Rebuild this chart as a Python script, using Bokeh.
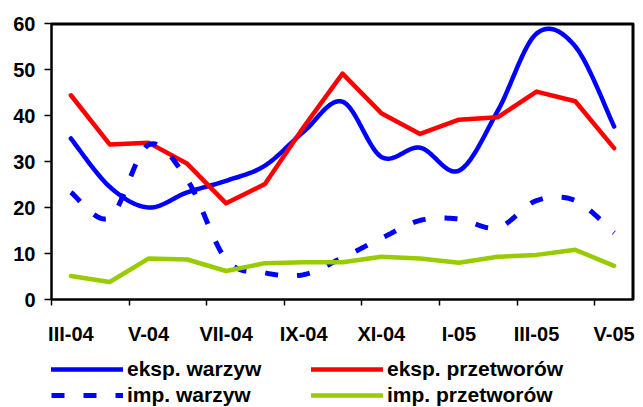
import numpy as np
from bokeh.plotting import figure
from bokeh.layouts import column
from bokeh.models import Range1d, FixedTicker, Legend, LegendItem, Span
from bokeh.embed import file_html
from bokeh.resources import INLINE

# ---- data ----
months = ["III-04", "IV-04", "V-04", "VI-04", "VII-04", "VIII-04", "IX-04", "X-04",
          "XI-04", "XII-04", "I-05", "II-05", "III-05", "IV-05", "V-05"]
eksp_warzyw = [35.0, 24.5, 20.0, 23.3, 25.8, 29.1, 36.5, 43.0, 31.0, 33.0, 28.0, 41.0, 57.8, 55.0, 37.6]
eksp_przetworow = [44.4, 33.7, 34.1, 29.5, 20.9, 25.1, 37.5, 49.1, 40.5, 36.0, 39.1, 39.6, 45.2, 43.1, 32.9]
imp_warzyw = [23.3, 17.8, 33.6, 26.0, 8.7, 5.8, 5.4, 9.1, 13.3, 17.2, 17.5, 15.6, 21.5, 21.5, 14.5]
imp_przetworow = [5.1, 3.8, 8.9, 8.7, 6.2, 7.9, 8.1, 8.1, 9.3, 8.9, 8.0, 9.3, 9.7, 10.8, 7.3]
series_labels = ["eksp. warzyw", "eksp. przetworów", "imp. warzyw", "imp. przetworów"]
y_ticks = [0, 10, 20, 30, 40, 50, 60]

xs = list(range(len(months)))
all_series = [eksp_warzyw, eksp_przetworow, imp_warzyw, imp_przetworow]


def smooth(x, y, n=24):
    """Catmull-Rom (Excel-style) smoothing of a polyline for rendering."""
    x = np.asarray(x, float)
    y = np.asarray(y, float)
    px = np.concatenate([[x[0]], x, [x[-1]]])
    py = np.concatenate([[y[0]], y, [y[-1]]])
    ox, oy = [], []
    t = np.linspace(0, 1, n, endpoint=False)
    for i in range(1, len(px) - 2):
        p0 = np.array([px[i], py[i]])
        p3 = np.array([px[i + 1], py[i + 1]])
        c1 = p0 + (np.array([px[i + 1], py[i + 1]]) - np.array([px[i - 1], py[i - 1]])) / 6.0
        c2 = p3 - (np.array([px[i + 2], py[i + 2]]) - np.array([px[i], py[i]])) / 6.0
        for tt in t:
            b = ((1 - tt) ** 3) * p0 + 3 * ((1 - tt) ** 2) * tt * c1 + 3 * (1 - tt) * tt ** 2 * c2 + tt ** 3 * p3
            ox.append(b[0])
            oy.append(b[1])
    ox.append(x[-1])
    oy.append(y[-1])
    return ox, oy


FONT = "Liberation Sans"
BLUE = "#0000FF"
RED = "#FF0000"
GREEN = "#99CC00"
styles = [
    dict(line_color=BLUE, line_width=4.5, line_cap="round", line_join="round"),
    dict(line_color=RED, line_width=4.5, line_cap="round", line_join="round"),
    dict(line_color=BLUE, line_width=5, line_dash="13 19"),
    dict(line_color=GREEN, line_width=4.5, line_cap="round", line_join="round"),
]

x_range = Range1d(-0.5, 14.5)
y_range = Range1d(0, 60)

p = figure(frame_width=582, frame_height=276, output_backend="svg", toolbar_location=None,
           x_range=x_range, y_range=y_range,
           min_border_left=51, min_border_right=8, min_border_top=23, min_border_bottom=0)
p.background_fill_color = "white"
p.border_fill_color = "white"
p.outline_line_color = "black"
p.outline_line_width = 2
p.xgrid.visible = False
p.ygrid.visible = False

sx, sy = smooth(xs, eksp_warzyw)
p.line(sx, sy, **styles[0])
p.line(xs, eksp_przetworow, **styles[1])
dx, dy = smooth(xs, imp_warzyw)
p.line(dx, dy, **styles[2])
p.line(xs, imp_przetworow, **styles[3])

# top and right edges of the plot frame
p.add_layout(Span(location=y_range.end, dimension="width", line_color="black", line_width=4))
p.add_layout(Span(location=x_range.end, dimension="height", line_color="black", line_width=4))

# x axis
xa = p.xaxis[0]
xa.ticker = FixedTicker(ticks=list(range(0, 15, 2)), minor_ticks=[i - 0.5 for i in range(0, 16, 2)])
xa.major_label_overrides = {i: months[i] for i in range(0, 15, 2)}
xa.major_tick_line_color = None
xa.major_tick_out = 0
xa.major_tick_in = 0
xa.minor_tick_line_color = "black"
xa.minor_tick_line_width = 1.5
xa.minor_tick_out = 6
xa.minor_tick_in = 0
xa.major_label_standoff = 17
xa.axis_line_color = "black"
xa.axis_line_width = 2
xa.major_label_text_font = FONT
xa.major_label_text_font_style = "bold"
xa.major_label_text_font_size = "20px"
xa.major_label_text_color = "black"

# y axis
ya = p.yaxis[0]
ya.ticker = FixedTicker(ticks=y_ticks, minor_ticks=[])
ya.major_tick_out = 7
ya.major_tick_in = 0
ya.major_tick_line_width = 1.5
ya.major_tick_line_color = "black"
ya.minor_tick_line_color = None
ya.major_label_standoff = 9
ya.axis_line_color = "black"
ya.axis_line_width = 2
ya.major_label_text_font = FONT
ya.major_label_text_font_style = "bold"
ya.major_label_text_font_size = "20px"
ya.major_label_text_color = "black"

# ---- legend strip (same series and line styles; its view range shows no data) ----
pl = figure(width=641, height=60, output_backend="svg", toolbar_location=None,
            x_range=Range1d(-200, -199), y_range=Range1d(-200, -199),
            x_axis_location=None, y_axis_location=None,
            min_border_left=0, min_border_right=0, min_border_top=0, min_border_bottom=0)
pl.xgrid.visible = False
pl.ygrid.visible = False
pl.outline_line_color = None
pl.background_fill_color = "white"
pl.border_fill_color = "white"
legend_renderers = [pl.line(xs, ser, **st) for ser, st in zip(all_series, styles)]

legend = Legend(items=[LegendItem(label=lab, renderers=[r]) for lab, r in zip(series_labels, legend_renderers)],
                orientation="horizontal", ncols=2, location=(0, 0))
legend.margin = 0
legend.padding = 0
legend.spacing = 2
legend.glyph_width = 72
legend.glyph_height = 24
legend.label_height = 24
legend.label_width = 182
legend.label_standoff = 4
legend.border_line_color = None
legend.background_fill_alpha = 0
legend.label_text_font = FONT
legend.label_text_font_style = "bold"
legend.label_text_font_size = "21px"
legend.label_text_color = "black"
pl.add_layout(legend, "center")

layout = column(p, pl, spacing=0)
open("out.html", "w").write(file_html(layout, INLINE))
